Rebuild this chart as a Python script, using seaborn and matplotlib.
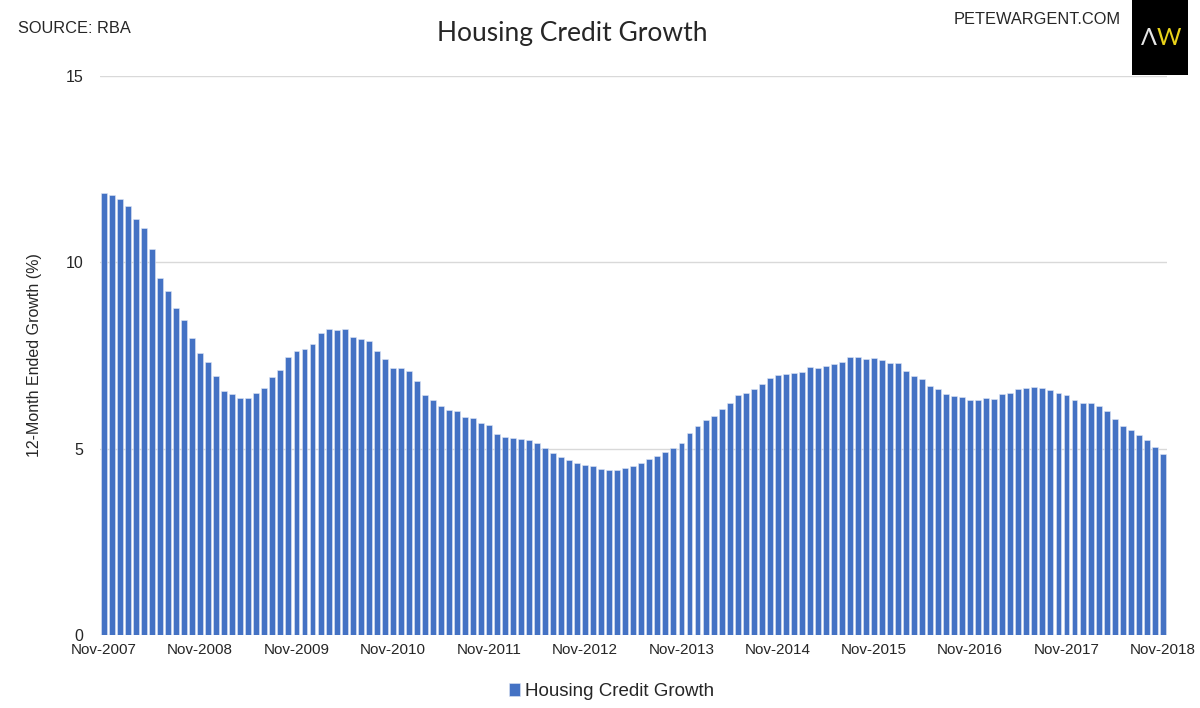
import matplotlib
matplotlib.use("Agg")
import matplotlib.pyplot as plt
import seaborn as sns
import pandas as pd
from matplotlib.patches import Rectangle

# Crecimiento del credito hipotecario, 12 meses (%), mensual Nov-2007 .. Nov-2018
growth = [
    11.87, 11.81, 11.71, 11.51, 11.15, 10.92, 10.37, 9.58, 9.22, 8.77,
    8.45, 7.98, 7.58, 7.33, 6.95, 6.54, 6.47, 6.35, 6.37, 6.49,
    6.64, 6.92, 7.12, 7.45, 7.62, 7.67, 7.81, 8.10, 8.21, 8.18,
    8.21, 8.00, 7.93, 7.89, 7.62, 7.41, 7.17, 7.17, 7.08, 6.82,
    6.43, 6.31, 6.14, 6.05, 6.00, 5.84, 5.81, 5.69, 5.64, 5.38,
    5.31, 5.29, 5.27, 5.23, 5.14, 5.03, 4.88, 4.78, 4.69, 4.61,
    4.57, 4.53, 4.45, 4.43, 4.43, 4.47, 4.53, 4.61, 4.71, 4.80,
    4.90, 5.02, 5.16, 5.42, 5.62, 5.76, 5.88, 6.07, 6.22, 6.43,
    6.50, 6.60, 6.74, 6.89, 6.98, 7.00, 7.03, 7.05, 7.19, 7.16,
    7.22, 7.27, 7.33, 7.46, 7.46, 7.41, 7.42, 7.38, 7.29, 7.29,
    7.08, 6.96, 6.86, 6.69, 6.60, 6.47, 6.40, 6.38, 6.31, 6.31,
    6.35, 6.32, 6.47, 6.50, 6.59, 6.62, 6.65, 6.62, 6.57, 6.50,
    6.43, 6.31, 6.23, 6.23, 6.14, 6.02, 5.80, 5.61, 5.49, 5.37,
    5.22, 5.04, 4.85,
]
months = pd.date_range("2007-11-01", periods=len(growth), freq="MS").strftime("%b-%Y").tolist()
y_ticks = [0, 5, 10, 15]

sns.set_style("white")
plt.rcParams["font.family"] = ["Liberation Sans", "DejaVu Sans"]

datos = pd.DataFrame({"mes": months, "valor": growth})

fig = plt.figure(figsize=(12, 7.08), dpi=100)
ax = fig.add_axes([0.0833, 0.1031, 0.889, 0.7896])

# Barras mensuales con el azul tipico de Excel
sns.barplot(data=datos, x="mes", y="valor", color="#4472C4", saturation=1,
            width=0.74, edgecolor="#dfe6f4", linewidth=0.4,
            label="Housing Credit Growth", ax=ax)

ax.set_ylim(0, 15)
ax.set_xlim(-0.5, len(growth) - 0.5)
ax.set_yticks(y_ticks)
ax.set_yticklabels([str(v) for v in y_ticks], fontsize=11.5)
ax.yaxis.grid(True, color="#d9d9d9", linewidth=1)
ax.set_axisbelow(True)
tick_pos = list(range(0, len(growth), 12))
ax.set_xticks(tick_pos)
ax.set_xticklabels([months[i] for i in tick_pos], fontsize=11)
ax.tick_params(axis="y", length=0, pad=12)
ax.tick_params(axis="x", length=0, pad=6)
for s in ax.spines.values():
    s.set_visible(False)
ax.set_xlabel("")
ax.set_ylabel("12-Month Ended Growth (%)", fontsize=11.5, labelpad=17)

ax.legend(loc="upper center", bbox_to_anchor=(0.48, -0.055), frameon=False,
          fontsize=13.5, handlelength=0.55, handleheight=0.7, handletextpad=0.3)

fig.text(0.477, 0.953, "Housing Credit Growth", ha="center", va="center",
         fontsize=19, family=["Lato", "DejaVu Sans"])
fig.text(0.015, 0.96, "SOURCE: RBA", ha="left", va="center", fontsize=11.8)
fig.text(0.934, 0.972, "PETEWARGENT.COM", ha="right", va="center", fontsize=11.8)

# Logo
fig.patches.append(Rectangle((0.9433, 0.894), 0.0467, 0.106, transform=fig.transFigure,
                             facecolor="black", edgecolor="none", zorder=5))
fig.text(0.9638, 0.946, "\u039b", ha="right", va="center", color="#e6e6e6",
         fontsize=17, zorder=6, family=["Lato", "DejaVu Sans"])
fig.text(0.9642, 0.946, "W", ha="left", va="center", color="#e8d21a",
         fontsize=17, zorder=6, family=["Lato", "DejaVu Sans"])

fig.savefig("out.png", dpi=100)
